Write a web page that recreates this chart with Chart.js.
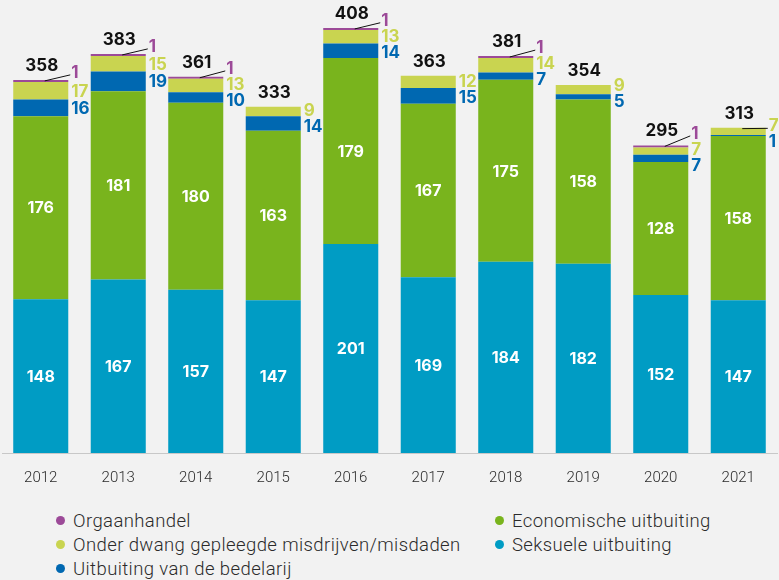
<!DOCTYPE html>
<html>
<head>
<meta charset="utf-8">
<script src="https://cdn.jsdelivr.net/npm/chart.js@4"></script>
<style>
  html, body { margin: 0; padding: 0; background: #f2f2f2; }
  #wrap { position: relative; width: 779px; height: 580px; }
  #chart { position: absolute; left: 0; top: 0; }
  .legend { position: absolute; font-family: Roboto, sans-serif; font-weight: 300; font-size: 18.5px; letter-spacing: 0.4px; color: #2b2b2b; white-space: nowrap; line-height: 22px; }
  .legend span.dot { display: inline-block; width: 9px; height: 9px; border-radius: 50%; margin-right: 8px; vertical-align: 2px; }
</style>
</head>
<body>
<div id="wrap">
  <canvas id="chart" width="779" height="500"></canvas>
  <div id="legend"></div>
</div>
<script>
// ─── DATA ────────────────────────────────────────────────────────────────
const years        = ['2012','2013','2014','2015','2016','2017','2018','2019','2020','2021'];
const seksueel     = [148, 167, 157, 147, 201, 169, 184, 182, 152, 147];
const economisch   = [176, 181, 180, 163, 179, 167, 175, 158, 128, 158];
const bedelarij    = [16, 19, 10, 14, 14, 15, 7, 5, 7, 1];
const onderDwang   = [17, 15, 13, 9, 13, 12, 14, 9, 7, 7];
const orgaanhandel = [1, 1, 1, 0, 1, 0, 1, 0, 1, 0];

const COLORS = {
  seks:   '#009cc4',
  eco:    '#79b41d',
  bedel:  '#0068b1',
  dwang:  '#c9d450',
  orgaan: '#9c4a98',
};

// stack order: bottom → top
const datasets = [
  { label: 'Seksuele uitbuiting', data: seksueel, backgroundColor: COLORS.seks },
  { label: 'Economische uitbuiting', data: economisch, backgroundColor: COLORS.eco },
  { label: 'Uitbuiting van de bedelarij', data: bedelarij, backgroundColor: COLORS.bedel },
  { label: 'Onder dwang gepleegde misdrijven/misdaden', data: onderDwang, backgroundColor: COLORS.dwang },
  // zeros -> null so the min bar length does not draw an empty stripe
  { label: 'Orgaanhandel', data: orgaanhandel.map(v => v || null), backgroundColor: COLORS.orgaan, minBarLength: 2 },
];

// ─── LABELS PLUGIN ───────────────────────────────────────────────────────
const FONT = '"Inter", "Noto Sans", sans-serif';

const labelsPlugin = {
  id: 'barLabels',
  afterDatasetsDraw(chart) {
    const ctx = chart.ctx;
    const ds  = chart.data.datasets;
    ctx.save();
    years.forEach((yr, i) => {
      const bars = ds.map((d, k) => chart.getDatasetMeta(k).data[i]);
      const val  = k => ds[k].data[i] || 0;

      // inside labels (two big segments)
      ctx.font = `700 16px ${FONT}`;
      ctx.fillStyle = '#fff';
      ctx.textAlign = 'center';
      ctx.textBaseline = 'middle';
      [0, 1].forEach(k => {
        const b = bars[k];
        ctx.fillText(String(val(k)), b.x, (b.y + b.base) / 2 + 1);
      });

      // stack top & total
      let top = bars[0].y;
      let total = 0;
      ds.forEach((d, k) => {
        total += val(k);
        if (val(k) > 0) top = Math.min(top, bars[k].y);
      });
      ctx.font = `700 17px ${FONT}`;
      ctx.fillStyle = '#111';
      ctx.textBaseline = 'alphabetic';
      ctx.fillText(String(total), bars[0].x + 1, top - 9);

      // small labels on the right, top → bottom
      const items = [];
      [4, 3, 2].forEach(k => {
        const v = val(k);
        if (!v) return;
        const b = bars[k];
        items.push({ k, v, h: b.base - b.y, y: k === 4 ? b.y - 8 : (b.y + b.base) / 2 });
      });
      // relax overlaps
      const GAP = 16;
      for (let it = 0; it < 30; it++) {
        for (let j = 0; j < items.length - 1; j++) {
          const a = items[j], c = items[j + 1];
          const d = c.y - a.y;
          if (d < GAP) {
            const push = (GAP - d) / 2;
            a.y -= push;
            c.y += push;
          }
        }
      }
      const right = bars[0].x + bars[0].width / 2;
      ctx.textAlign = 'left';
      ctx.textBaseline = 'middle';
      items.forEach((it, j) => {
        ctx.fillStyle = ds[it.k].backgroundColor;
        ctx.fillText(String(it.v), right + 3, it.y + 1);
        if (j === 0 && it.h < 8) {
          ctx.strokeStyle = '#111';
          ctx.lineWidth = 1;
          ctx.beginPath();
          ctx.moveTo(bars[0].x + 4, top + 1);
          ctx.lineTo(right + 2, it.y + 3);
          ctx.stroke();
        }
      });
    });
    ctx.restore();
  }
};

// ─── CHART ───────────────────────────────────────────────────────────────
new Chart(document.getElementById('chart'), {
  type: 'bar',
  data: {
    labels: years,
    datasets: datasets.map(d => ({ ...d, borderWidth: 0, categoryPercentage: 1, barPercentage: 0.71 })),
  },
  options: {
    responsive: false,
    animation: false,
    layout: { padding: { top: 6, left: 2, right: 2, bottom: 0 } },
    plugins: {
      legend: { display: false },
      tooltip: { enabled: false },
    },
    scales: {
      x: {
        stacked: true,
        grid: { display: false },
        border: { display: true, color: '#c8c8c8', width: 1 },
        ticks: { color: '#2b2b2b', font: { family: 'Roboto', weight: 300, size: 15 }, padding: 8 },
        afterFit: s => { s.height = 47; },
      },
      y: {
        stacked: true,
        display: false,
        min: 0,
        max: 430,
      },
    },
  },
  plugins: [labelsPlugin],
});

// ─── LEGEND (HTML) ───────────────────────────────────────────────────────
const legendItems = [
  { label: 'Orgaanhandel', color: COLORS.orgaan, x: 56, y: 510 },
  { label: 'Onder dwang gepleegde misdrijven/misdaden', color: COLORS.dwang, x: 56, y: 534 },
  { label: 'Uitbuiting van de bedelarij', color: COLORS.bedel, x: 56, y: 558 },
  { label: 'Economische uitbuiting', color: COLORS.eco, x: 495, y: 510 },
  { label: 'Seksuele uitbuiting', color: COLORS.seks, x: 495, y: 534 },
];
document.getElementById('legend').innerHTML = legendItems.map(it =>
  `<div class="legend" style="left:${it.x}px;top:${it.y}px"><span class="dot" style="background:${it.color}"></span>${it.label}</div>`
).join('');
</script>
</body>
</html>
